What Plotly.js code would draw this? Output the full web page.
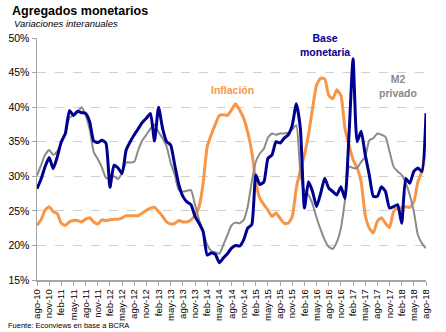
<!DOCTYPE html>
<html>
<head>
<meta charset="utf-8">
<script src="https://cdn.plot.ly/plotly-3.0.1.min.js"></script>
<style>html,body{margin:0;padding:0;background:#fff;}#chart{width:446px;height:332px;}</style>
</head>
<body>
<div id="chart"></div>
<script>
var monthNames = ['ago','sep','oct','nov','dic','ene','feb','mar','abr','may','jun','jul'];
var tickLabels = ['ago-10','nov-10','feb-11','may-11','ago-11','nov-11','feb-12','may-12','ago-12','nov-12',
  'feb-13','may-13','ago-13','nov-13','feb-14','may-14','ago-14','nov-14','feb-15','may-15','ago-15','nov-15',
  'feb-16','may-16','ago-16','nov-16','feb-17','may-17','ago-17','nov-17','feb-18','may-18','ago-18'];

var baseMonetaria = [28.2,29.6,31.4,32.7,31.1,32.8,35.0,36.2,39.5,38.8,39.4,39.2,39.1,37.9,35.1,34.9,35.2,34.8,28.4,31.6,
  31.2,30.4,33.8,35.0,36.0,36.9,37.8,38.4,39.1,35.1,40.0,36.9,35.0,34.5,31.6,28.8,27.1,26.3,25.9,24.2,
  23.2,22.0,18.6,18.9,18.7,17.5,18.2,18.8,19.6,20.0,19.9,20.8,22.5,23.0,30.2,28.8,29.2,32.6,33.1,35.0,
  34.8,35.5,36.0,37.4,40.5,36.9,25.4,29.2,27.8,25.6,27.5,29.7,28.3,27.8,27.3,28.5,26.8,36.0,47.0,35.0,
  36.5,33.1,30.2,27.1,27.1,28.5,27.8,25.4,25.6,25.9,23.2,29.7,29.0,30.7,31.2,30.7,39.1];

var m2Privado = [30.1,31.6,33.1,33.8,33.1,33.6,34.8,36.2,38.5,38.8,39.3,40.0,38.8,36.8,33.5,32.5,31.3,29.8,29.7,30.0,
  29.6,30.5,32.0,32.0,32.1,33.8,35.2,36.0,36.9,37.5,36.4,35.5,34.3,31.9,30.2,28.0,27.8,27.9,28.0,25.9,
  23.7,22.0,20.1,19.2,19.0,18.8,20.1,21.5,22.9,23.3,23.2,23.7,25.6,29.2,32.1,33.3,34.0,35.6,36.2,36.0,
  36.2,36.2,36.3,36.8,37.4,30.5,27.9,27.3,26.0,24.0,22.3,20.8,19.8,19.5,20.5,22.5,26.5,31.4,31.2,31.2,
  32.1,32.8,35.2,35.5,36.2,36.0,35.7,33.6,31.4,30.7,30.2,29.0,27.3,24.9,21.5,20.3,19.6];

var inflacion = [22.9,23.7,25.1,25.6,24.9,24.6,23.2,22.9,23.4,23.6,23.6,23.4,23.8,24.0,23.4,23.1,23.7,23.6,23.7,23.8,
  23.8,24.0,24.3,24.3,24.3,24.3,24.7,25.1,25.4,25.5,24.9,24.2,23.4,23.1,23.2,23.6,23.4,23.4,23.7,24.4,
  25.6,29.0,34.3,36.0,37.5,38.8,38.9,38.8,39.6,40.5,39.6,38.4,36.4,33.6,29.2,26.8,25.9,25.1,24.2,24.7,
  23.9,23.2,23.2,24.2,28.3,30.9,33.1,36.0,39.8,43.2,44.2,44.1,41.7,41.2,42.5,41.7,36.9,34.5,32.4,31.2,
  29.2,24.4,22.5,21.8,23.5,24.0,23.2,22.6,24.9,25.4,25.4,25.6,25.5,26.3,29.2,30.7,34.3];

var months = [];
for (var i = 0; i < baseMonetaria.length; i++) {
  var yr = 10 + Math.floor((i + 7) / 12);
  months.push(monthNames[i % 12] + '-' + yr);
}
var tickVals = [];
for (var j = 0; j < tickLabels.length; j++) tickVals.push(months[j * 3]);

var ORANGE = '#F79646', NAVY = '#000090', GRAY = '#8A8A8A';
var FONT = 'Liberation Sans, Arial, sans-serif';

var traces = [
  {x: months, y: inflacion, type: 'scatter', mode: 'lines', line: {color: ORANGE, width: 3, shape: 'spline', smoothing: 0.5}, hoverinfo: 'skip'},
  {x: months, y: m2Privado, type: 'scatter', mode: 'lines', line: {color: GRAY, width: 2, shape: 'spline', smoothing: 0.5}, hoverinfo: 'skip'},
  {x: months, y: baseMonetaria, type: 'scatter', mode: 'lines', line: {color: NAVY, width: 3, shape: 'spline', smoothing: 0.5}, hoverinfo: 'skip'}
];

var layout = {
  width: 446, height: 332,
  margin: {l: 37, r: 20, t: 38, b: 52, pad: 0},
  paper_bgcolor: '#fff', plot_bgcolor: '#fff',
  showlegend: false,
  font: {family: FONT, color: '#000'},
  title: {text: '<b>Agregados monetarios</b>', font: {family: FONT, size: 12.5, color: '#000'},
          x: 12/446, xref: 'container', xanchor: 'left', y: 1 - 10.5/332, yref: 'container', yanchor: 'middle'},
  xaxis: {
    type: 'category', range: [0, 96],
    tickmode: 'array', tickvals: tickVals, ticktext: tickLabels,
    tickangle: -90, tickfont: {family: FONT, size: 9.5, color: '#000'},
    ticks: 'outside', ticklen: 4, tickcolor: '#a6a6a6', tickwidth: 1,
    showline: true, linecolor: '#a6a6a6', linewidth: 1.5,
    showgrid: false, zeroline: false, fixedrange: true
  },
  yaxis: {
    range: [15, 50], dtick: 5, tick0: 15, ticksuffix: '%',
    tickfont: {family: FONT, size: 10.5, color: '#000'},
    ticks: 'outside', ticklen: 4, tickcolor: '#a6a6a6', tickwidth: 1,
    showline: true, linecolor: '#a6a6a6', linewidth: 1.5,
    showgrid: true, gridcolor: '#d0d0d0', griddash: 'dash', gridwidth: 1,
    zeroline: false, fixedrange: true
  },
  annotations: [
    {text: '<i>Variaciones interanuales</i>', xref: 'paper', yref: 'paper', x: (12-37)/389, y: 1 + (38-23.5)/242,
     xanchor: 'left', yanchor: 'middle', showarrow: false, font: {family: FONT, size: 9.5, color: '#000'}},
    {text: '<b>Inflación</b>', xref: 'paper', yref: 'paper', x: (232.5-37)/389, y: 1 - (89.5-38)/242,
     xanchor: 'center', yanchor: 'middle', showarrow: false, font: {family: FONT, size: 10.5, color: ORANGE}},
    {text: '<b>Base<br>monetaria</b>', xref: 'paper', yref: 'paper', x: (325-37)/389, y: 1 - (44.7-38)/242,
     xanchor: 'center', yanchor: 'middle', showarrow: false, font: {family: FONT, size: 10.5, color: NAVY}},
    {text: '<b>M2<br>privado</b>', xref: 'paper', yref: 'paper', x: (398-37)/389, y: 1 - (86.5-38)/242,
     xanchor: 'center', yanchor: 'middle', showarrow: false, font: {family: FONT, size: 10.5, color: GRAY}},
    {text: 'Fuente: Econviews en base a BCRA', xref: 'paper', yref: 'paper', x: (6-37)/389, y: 1 - (325-38)/242,
     xanchor: 'left', yanchor: 'middle', showarrow: false, font: {family: FONT, size: 7.5, color: '#000'}}
  ]
};

Plotly.newPlot('chart', traces, layout, {staticPlot: true, displayModeBar: false});
</script>
</body>
</html>
